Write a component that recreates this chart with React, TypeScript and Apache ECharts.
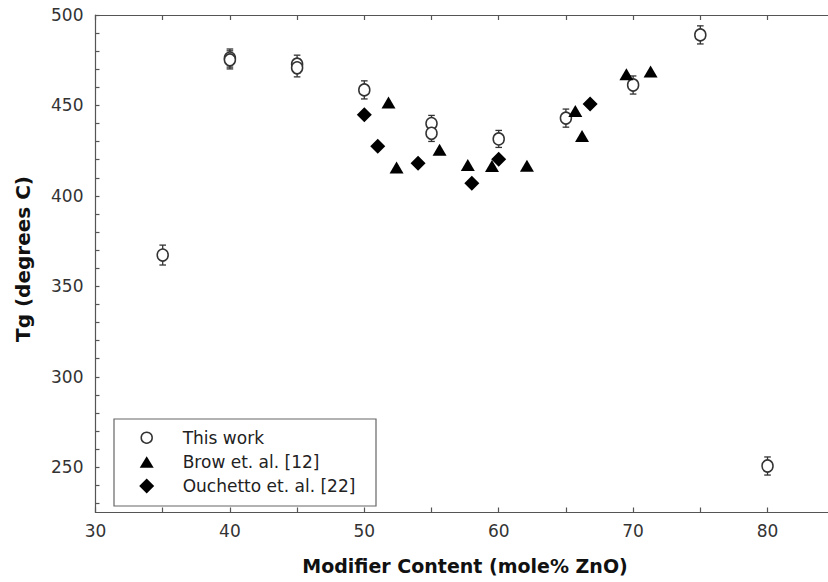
import React, { useEffect, useRef } from "react";
import * as echarts from "echarts";

// "This work" (circles with error bars)
const thisX = [35, 40, 40, 45, 45, 50, 55, 55, 60, 65, 70, 75, 80];
const thisY = [367.3, 476.2, 475.2, 472.8, 470.8, 458.6, 440, 434.6, 431.5, 443, 461.3, 489, 250.7];
const thisErr = [5.5, 5, 5, 5, 5, 5, 4.5, 4.5, 4.7, 5, 5, 5, 5];

// Brow et. al. [12] (filled triangles)
const browX = [51.8, 52.4, 55.6, 57.7, 59.5, 62.1, 65.7, 66.2, 69.5, 71.3];
const browY = [451.7, 415.7, 425.5, 417.1, 416.5, 416.7, 447, 433.1, 467.2, 468.7];

// Ouchetto et. al. [22] (filled diamonds)
const ouchX = [50.0, 51.0, 54.0, 58.0, 60.0, 66.8];
const ouchY = [444.8, 427.4, 418.0, 407.0, 420.2, 450.8];

const xLabelValues = [30, 40, 50, 60, 70, 80];
const xTickValues = [30, 35, 40, 45, 50, 55, 60, 65, 70, 75, 80];
const yLabelValues = [250, 300, 350, 400, 450, 500];
const yTickValues = [230, 240, 250, 260, 270, 280, 290, 300, 310, 320, 330, 340, 350, 360, 370, 380, 390, 400, 410, 420, 430, 440, 450, 460, 470, 480, 490, 500];

const legendNames = ["This work", "Brow et. al. [12]", "Ouchetto et. al. [22]"];
const xTitle = "Modifier Content (mole% ZnO)";
const yTitle = "Tg (degrees C)";

const FONT = "'DejaVu Sans', sans-serif";
const AXIS_COLOR = "#555";
const INK = "#222";

export default function App() {
  const ref = useRef<HTMLDivElement>(null);

  useEffect(() => {
    if (!ref.current) return;
    const chart = echarts.init(ref.current, null, { renderer: "svg" });

    const thisData = thisX.map((x, i) => [x, thisY[i]]);
    const errData = thisX.map((x, i) => [x, thisY[i], thisErr[i]]);
    const browData = browX.map((x, i) => [x, browY[i]]);
    const ouchData = ouchX.map((x, i) => [x, ouchY[i]]);

    const lx = 146.7;
    const rows = [437.7, 462.3, 486];

    const option: any = {
      animation: false,
      backgroundColor: "#fff",
      grid: { left: 95.5, right: 0, top: 15, bottom: 69.5, containLabel: false },
      xAxis: [
        {
          type: "value",
          position: "bottom",
          min: 30,
          max: 84.5,
          axisLine: { show: true, onZero: false, lineStyle: { color: AXIS_COLOR, width: 1.2 } },
          axisTick: { show: true, inside: true, length: 5, customValues: xTickValues, lineStyle: { color: AXIS_COLOR, width: 1.2 } },
          axisLabel: { customValues: xLabelValues, margin: 10, fontFamily: FONT, fontSize: 17, color: "#333" },
          splitLine: { show: false },
        },
        {
          type: "value",
          position: "top",
          min: 30,
          max: 84.5,
          axisLine: { show: true, onZero: false, lineStyle: { color: AXIS_COLOR, width: 1.2 } },
          axisTick: { show: true, inside: true, length: 5, customValues: xTickValues, lineStyle: { color: AXIS_COLOR, width: 1.2 } },
          axisLabel: { show: false },
          splitLine: { show: false },
        },
      ],
      yAxis: {
        type: "value",
        min: 225,
        max: 500,
        axisLine: { show: true, onZero: false, lineStyle: { color: AXIS_COLOR, width: 1.2 } },
        axisTick: { show: true, inside: true, length: 4, customValues: yTickValues, lineStyle: { color: AXIS_COLOR, width: 1.2 } },
        axisLabel: { customValues: yLabelValues, margin: 12, fontFamily: FONT, fontSize: 17, color: "#333" },
        splitLine: { show: false },
      },
      series: [
        {
          type: "custom",
          name: "errors",
          xAxisIndex: 0,
          z: 1,
          data: errData,
          renderItem: (params: any, api: any) => {
            const x = api.value(0);
            const y = api.value(1);
            const e = api.value(2);
            const top = api.coord([x, y + e]);
            const bot = api.coord([x, y - e]);
            const hw = 3.3;
            const st = { stroke: "#333", lineWidth: 1.3 };
            return {
              type: "group",
              children: [
                { type: "line", shape: { x1: top[0], y1: top[1], x2: bot[0], y2: bot[1] }, style: st },
                { type: "line", shape: { x1: top[0] - hw, y1: top[1], x2: top[0] + hw, y2: top[1] }, style: st },
                { type: "line", shape: { x1: bot[0] - hw, y1: bot[1], x2: bot[0] + hw, y2: bot[1] }, style: st },
              ],
            };
          },
        },
        {
          type: "scatter",
          name: legendNames[0],
          xAxisIndex: 0,
          z: 2,
          symbol: "circle",
          symbolSize: [11, 12],
          itemStyle: { color: "#fff", borderColor: "#333", borderWidth: 1.6, opacity: 1 },
          data: thisData,
        },
        {
          type: "scatter",
          name: legendNames[1],
          xAxisIndex: 0,
          z: 3,
          symbol: "triangle",
          symbolSize: [14, 12],
          itemStyle: { color: "#000", opacity: 1 },
          data: browData,
        },
        {
          type: "scatter",
          name: legendNames[2],
          xAxisIndex: 0,
          z: 4,
          symbol: "diamond",
          symbolSize: [15, 15],
          itemStyle: { color: "#000", opacity: 1 },
          data: ouchData,
        },
      ],
      graphic: [
        {
          type: "rect",
          z: 10,
          shape: { x: 114, y: 419, width: 262, height: 87 },
          style: { fill: "#fff", stroke: "#666", lineWidth: 1.2 },
        },
        {
          type: "circle",
          z: 11,
          shape: { cx: lx, cy: rows[0], r: 5.5 },
          style: { fill: "#fff", stroke: "#333", lineWidth: 1.5 },
        },
        {
          type: "polygon",
          z: 11,
          shape: { points: [[lx - 7, rows[1] + 5.5], [lx + 7, rows[1] + 5.5], [lx, rows[1] - 6]] },
          style: { fill: "#000" },
        },
        {
          type: "polygon",
          z: 11,
          shape: { points: [[lx, rows[2] - 7.5], [lx + 7.5, rows[2]], [lx, rows[2] + 7.5], [lx - 7.5, rows[2]]] },
          style: { fill: "#000" },
        },
        ...legendNames.map((name, i) => ({
          type: "text",
          z: 11,
          x: 182.7,
          y: rows[i],
          style: { text: name, fontFamily: FONT, fontSize: 17, fill: INK, textAlign: "left", textVerticalAlign: "middle" },
        })),
        {
          type: "text",
          x: 465,
          y: 566,
          style: { text: xTitle, fontFamily: FONT, fontWeight: "bold", fontSize: 19, fill: "#111", textAlign: "center", textVerticalAlign: "middle" },
        },
        {
          type: "text",
          x: 23,
          y: 259,
          rotation: Math.PI / 2,
          style: { text: yTitle, fontFamily: FONT, fontWeight: "bold", fontSize: 20, fill: "#111", textAlign: "center", textVerticalAlign: "middle" },
        },
      ],
    };

    chart.setOption(option);
    return () => chart.dispose();
  }, []);

  return (
    <div
      ref={ref}
      style={{ position: "absolute", left: 0, top: 0, width: 828, height: 582, background: "#fff" }}
    />
  );
}
